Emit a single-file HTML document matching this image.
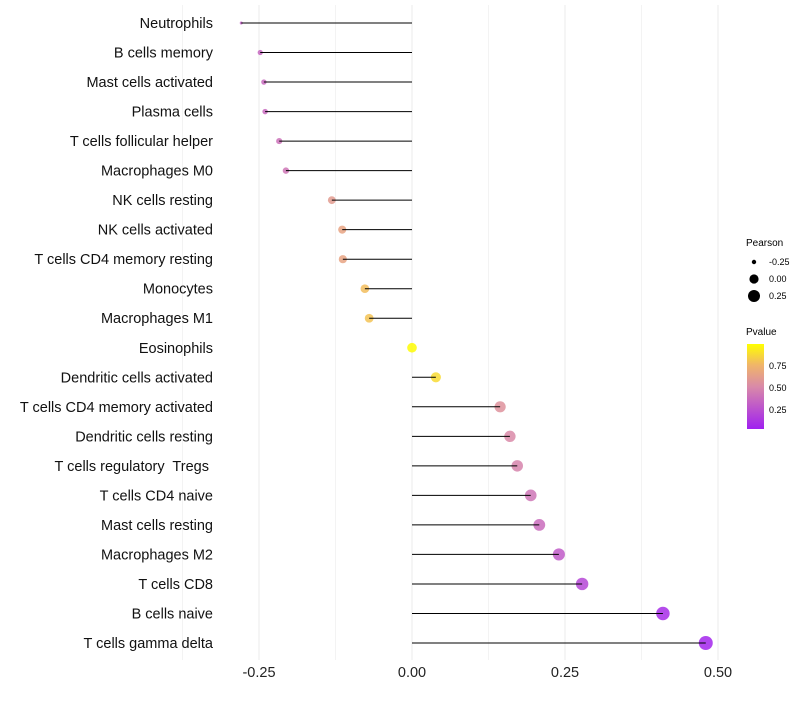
<!DOCTYPE html>
<html><head><meta charset="utf-8"><style>
body{margin:0;background:#fff;font-family:"Liberation Sans",sans-serif}
text{white-space:pre}
</style></head><body>
<svg id="chart" width="800" height="700" xmlns="http://www.w3.org/2000/svg" font-family="Liberation Sans, sans-serif">
<defs><linearGradient id="pg" x1="0" y1="1" x2="0" y2="0">
<stop offset="0" stop-color="#a020f0"/><stop offset="0.5" stop-color="#d98aa8"/><stop offset="0.75" stop-color="#f0b46a"/><stop offset="1" stop-color="#ffff00"/></linearGradient></defs>
<g id="grid"></g><g id="marks"></g><g id="stems"></g><g id="labels"></g>
<g font-size="10">
<text x="746" y="246">Pearson</text>
<circle cx="754" cy="262" r="2.2" fill="#000"/><text x="769" y="265" font-size="9">-0.25</text>
<circle cx="754" cy="279" r="4.6" fill="#000"/><text x="769" y="282" font-size="9">0.00</text>
<circle cx="754" cy="296" r="6" fill="#000"/><text x="769" y="299" font-size="9">0.25</text>
<text x="746" y="335">Pvalue</text>
<rect x="747" y="344" width="17" height="85" fill="url(#pg)"/>
<text x="769" y="369" font-size="9">0.75</text><text x="769" y="391" font-size="9">0.50</text><text x="769" y="413" font-size="9">0.25</text>
</g>
</svg>
<script>
const categories=["Neutrophils","B cells memory","Mast cells activated","Plasma cells","T cells follicular helper","Macrophages M0","NK cells resting","NK cells activated","T cells CD4 memory resting","Monocytes","Macrophages M1","Eosinophils","Dendritic cells activated","T cells CD4 memory activated","Dendritic cells resting","T cells regulatory  Tregs ","T cells CD4 naive","Mast cells resting","Macrophages M2","T cells CD8","B cells naive","T cells gamma delta"];
const pearson=[-0.279,-0.248,-0.242,-0.240,-0.217,-0.206,-0.131,-0.114,-0.113,-0.077,-0.070,0.0,0.039,0.144,0.160,0.172,0.194,0.208,0.240,0.278,0.410,0.480];
const pvalue=[0.3,0.33,0.35,0.35,0.38,0.4,0.6,0.65,0.65,0.78,0.8,0.99,0.88,0.55,0.5,0.47,0.4,0.36,0.28,0.18,0.06,0.03];
const xTicks=[-0.25,0,0.25,0.5];
const xTickLabels=["-0.25","0.00","0.25","0.50"];
const NS="http://www.w3.org/2000/svg";
const xs=v=>412+v*612;
const ys=i=>23+i*(620/21);
const pMin=Math.min(...pearson),pMax=Math.max(...pearson);
const rs=v=>1.5+5.5*Math.sqrt((v-pMin)/(pMax-pMin));
function col(p){const st=[[0,[160,32,240]],[0.5,[217,138,168]],[0.75,[240,180,106]],[1,[255,255,0]]];
for(let k=1;k<st.length;k++){if(p<=st[k][0]){const t=(p-st[k-1][0])/(st[k][0]-st[k-1][0]);const a=st[k-1][1],b=st[k][1];return `rgb(${a.map((c,j)=>Math.round(c+(b[j]-c)*t)).join(",")})`;}}return "rgb(255,255,0)";}
function mk(t,at,par){const e=document.createElementNS(NS,t);for(const k in at)e.setAttribute(k,at[k]);par.appendChild(e);return e;}
const grid=document.getElementById("grid"),marks=document.getElementById("marks"),stems=document.getElementById("stems"),labels=document.getElementById("labels");
[-0.375,-0.125,0.125,0.375].forEach(v=>{const l=mk("line",{x1:xs(v),x2:xs(v),y1:5,y2:660,stroke:"#f3f3f3","stroke-width":1},grid);

});
xTicks.forEach((v,i)=>{const l=mk("line",{x1:xs(v),x2:xs(v),y1:5,y2:660,stroke:"#ebebeb","stroke-width":1},grid);


const t=mk("text",{x:xs(v),y:677,"text-anchor":"middle","font-size":14.5,fill:"#222"},labels);t.textContent=xTickLabels[i];

});
categories.forEach((c,i)=>{const y=ys(i);
const l=mk("line",{x1:xs(0),x2:xs(pearson[i]),y1:y,y2:y,stroke:"#000","stroke-width":1},stems);


const d=mk("circle",{cx:xs(pearson[i]),cy:y,r:rs(pearson[i]),fill:col(pvalue[i]),"fill-opacity":0.85},marks);


const t=mk("text",{x:213,y:y+5,"text-anchor":"end","font-size":14.5,fill:"#111"},labels);t.textContent=c;

});
</script>
</body></html>
